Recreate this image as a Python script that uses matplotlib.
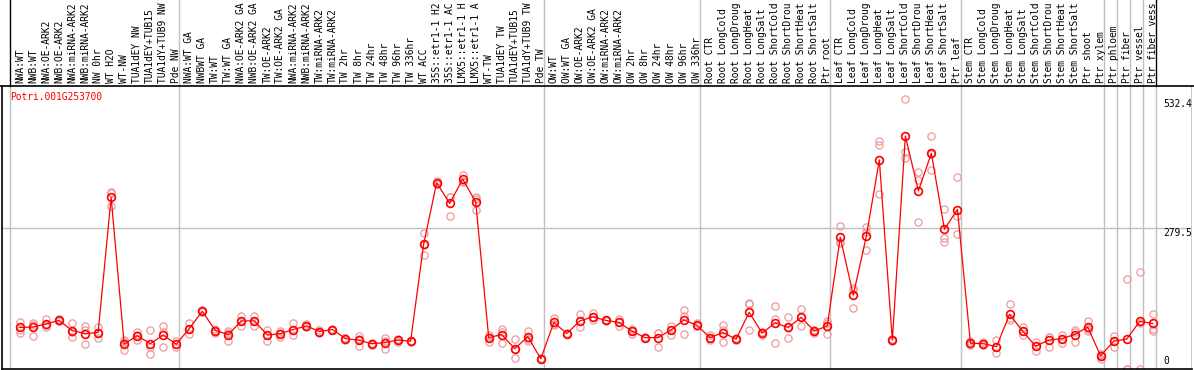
import matplotlib
matplotlib.use("Agg")
import matplotlib.pyplot as plt
import matplotlib.transforms as mtransforms
import numpy as np

gene = "Potri.001G253700"

# sample names as shown in the header (cut to 14 characters)
samples = [
    "NWA:WT", "NWB:WT", "NWA:OE-ARK2", "NWB:OE-ARK2", "NWA:miRNA-ARK2", "NWB:miRNA-ARK2",
    "NW 0hr", "WT H2O", "WT-NW", "TUA1dEY NW", "TUA1dEY+TUB15", "TUA1dY+TUB9 NW", "Pde NW",
    "NWA:WT GA", "NWBWT GA", "TW:WT", "TW:WT GA", "NWA:OE-ARK2 GA", "NWB:OE-ARK2 GA",
    "TW:OE-ARK2", "TW:OE-ARK2 GA", "NWA:miRNA-ARK2", "NWB:miRNA-ARK2", "TW:miRNA-ARK2",
    "TW:miRNA-ARK2", "TW 2hr", "TW 8hr", "TW 24hr", "TW 48hr", "TW 96hr", "TW 336hr",
    "WT ACC", "35S::etr1-1 H2", "35S::etr1-1 AC", "LMX5::etr1-1 H", "LMX5::etr1-1 A",
    "WT-TW", "TUA1dEY TW", "TUA1dEY+TUB15", "TUA1dY+TUB9 TW", "Pde TW",
    "OW:WT", "OW:WT GA", "OW:OE-ARK2", "OW:OE-ARK2 GA", "OW:miRNA-ARK2", "OW:miRNA-ARK2",
    "OW 2hr", "OW 8hr", "OW 24hr", "OW 48hr", "OW 96hr", "OW 336hr",
    "Root CTR", "Root LongCold", "Root LongDroug", "Root LongHeat", "Root LongSalt",
    "Root ShortCold", "Root ShortDrou", "Root ShortHeat", "Root ShortSalt", "Ptr root",
    "Leaf CTR", "Leaf LongCold", "Leaf LongDroug", "Leaf LongHeat", "Leaf LongSalt",
    "Leaf ShortCold", "Leaf ShortDrou", "Leaf ShortHeat", "Leaf ShortSalt", "Ptr leaf",
    "Stem CTR", "Stem LongCold", "Stem LongDroug", "Stem LongHeat", "Stem LongSalt",
    "Stem ShortCold", "Stem ShortDrou", "Stem ShortHeat", "Stem ShortSalt", "Ptr shoot",
    "Ptr xylem", "Ptr phloem", "Ptr fiber", "Ptr vessel", "Ptr fiber vess",
]

# samples per group (vertical separators after each group)
group_sizes = [13, 28, 12, 10, 10, 11, 1, 1, 1, 1]

means = [
    82, 83, 89, 96, 76, 70, 72, 339, 49, 66, 50, 67, 49,
    80, 114, 76, 68, 95, 95, 67, 70, 78, 85, 74, 78, 60, 57, 50, 52, 57, 55,
    246, 368, 327, 375, 330, 62, 68, 40, 64, 20,
    92, 70, 95, 103, 96, 92, 75, 62, 62, 77, 97, 86,
    62, 72, 59, 112, 71, 91, 82, 102, 75, 85,
    260, 146, 262, 413, 57, 460, 352, 426, 276, 315,
    51, 50, 44, 108, 75, 45, 57, 60, 68, 83, 26,
    55, 59, 94, 90,
]

replicates = [
    [93, 77, 72], [91, 87, 66], [99, 82, 86], [99, 95, 94], [90, 64, 74], [84, 49, 77],
    [82, 62, 72], [348, 350, 322], [37, 54, 58], [74, 57, 67], [78, 29, 43], [85, 74, 43],
    [55, 43, 49],
    [91, 69, 80], [114, 116, 112], [80, 72, 76], [72, 56, 76], [105, 85, 95], [105, 85, 95],
    [77, 56, 68], [75, 64, 71], [90, 67, 77], [88, 83, 84], [77, 72, 73], [80, 77, 77],
    [62, 57, 61], [66, 46, 59], [48, 52, 50], [62, 39, 55], [60, 54, 57], [56, 54, 55],
    [268, 226, 244], [372, 366, 366], [340, 302, 339], [383, 372, 370], [315, 340, 335],
    [64, 54, 68], [80, 51, 73], [59, 21, 39], [76, 56, 60], [20, 21, 19],
    [101, 86, 89], [70, 72, 69], [109, 82, 95], [110, 96, 103], [97, 95, 96], [99, 84, 93],
    [80, 69, 76], [62, 61, 63], [71, 44, 72], [85, 68, 78], [116, 70, 105], [90, 84, 84],
    [67, 58, 62], [87, 53, 77], [61, 57, 59], [128, 78, 130], [74, 68, 71], [124, 51, 99],
    [103, 62, 81], [118, 85, 103], [78, 72, 75], [90, 70, 95],
    [282, 250, 248], [160, 120, 156], [280, 235, 271], [450, 442, 346], [59, 56, 57],
    [532.4, 429, 417], [390, 373, 290], [460, 394, 424], [317, 259, 250], [379, 266, 302],
    [55, 50, 48], [53, 50, 47], [57, 31, 44], [128, 96, 100], [83, 67, 75], [53, 36, 46],
    [64, 44, 63], [68, 52, 60], [77, 54, 73], [95, 75, 79], [30, 20, 27],
    [65, 44, 55], [177, 0, 0], [192, 0, 90], [108, 80, 75],
]

RED = "#ff0000"
PINK = "#ee9a9a"
GRID = "#c0c0c0"
FONT = "DejaVu Sans Mono"
FS = 6.9

W, H = 1194, 370
fig = plt.figure(figsize=(W / 100, H / 100), dpi=100)

# plot area in pixels
left_px, right_px, top_px, bottom_px = 1.5, 1192, 86, 369
ax = fig.add_axes([left_px / W, 1 - bottom_px / H,
                   (right_px - left_px) / W, (bottom_px - top_px) / H])

step = 13.02   # pixels between samples
first_px = 20
n = len(samples)
x = np.arange(n)
top_val = max(max(r) for r in replicates)
ymax = top_val * 1.05

ax.set_xlim(-(first_px - left_px) / step, (n - 1) + (right_px - (first_px + (n - 1) * step)) / step)
ax.set_ylim(0, ymax)
ax.set_xticks([])
ax.set_yticks([])
for s in ax.spines.values():
    s.set_visible(False)
for side in ("left", "bottom"):
    ax.spines[side].set_visible(True)
    ax.spines[side].set_color("black")
    ax.spines[side].set_linewidth(1.2)

hdr = 1 + top_px / (bottom_px - top_px)

# middle grid line
ax.axhline(ymax / 2, color=GRID, lw=1, zorder=1)

# group separators
bounds = np.cumsum(group_sizes) - 1 + 0.25
for b in bounds[:-1]:
    ax.axvline(b, color=GRID, lw=1, zorder=1)
    ax.axvline(b, ymin=1, ymax=hdr, color=GRID, lw=1, clip_on=False)
x_first = -(first_px - 10) / step
for b in (x_first, bounds[-1]):
    ax.axvline(b, color=GRID, lw=1, zorder=1)
    ax.axvline(b, ymin=1, ymax=hdr, color="black", lw=1, clip_on=False)
ax.axvline(ax.get_xlim()[1] - 0.02, color=GRID, lw=1.2, zorder=1)

# header separator across the whole figure
fig.add_artist(plt.Line2D([0, 1], [1 - top_px / H, 1 - top_px / H], color="black", lw=1.2))

# replicates
for xi, reps in zip(x, replicates):
    ax.plot([xi] * len(reps), reps, ls="none", marker="o", ms=5.2, mfc="none",
            mec=PINK, mew=0.9, zorder=2)

# means
ax.plot(x, means, color=RED, lw=0.9, zorder=3)
ax.plot(x, means, ls="none", marker="o", ms=5.6, mfc="none", mec=RED, mew=1.2, zorder=4)

# sample labels in header
lab_y = 1 + 3 / (bottom_px - top_px)
for xi, lab in zip(x, samples):
    ax.text(xi, lab_y, lab, rotation=90, ha="center", va="bottom", fontsize=FS,
            family=FONT, transform=ax.get_xaxis_transform(), clip_on=False)

# gene name
ax.text((10 - left_px) / (right_px - left_px), 1 - 6 / (bottom_px - top_px), gene,
        color=RED, fontsize=FS, family=FONT, ha="left", va="top", transform=ax.transAxes)

# value labels on the right
lab_x = (1163 - left_px) / (right_px - left_px)
blend = mtransforms.blended_transform_factory(ax.transAxes, ax.transData)
ax.text(lab_x, top_val, f"{top_val:.1f}", transform=blend,
        fontsize=FS, family=FONT, ha="left", va="top", clip_on=False)
ax.text(lab_x, ymax / 2, f"{ymax / 2:.1f}", transform=blend,
        fontsize=FS, family=FONT, ha="left", va="top", clip_on=False)
ax.text(lab_x, 0.012, "0", transform=ax.transAxes,
        fontsize=FS, family=FONT, ha="left", va="bottom", clip_on=False)

fig.savefig("out.png", dpi=100)
